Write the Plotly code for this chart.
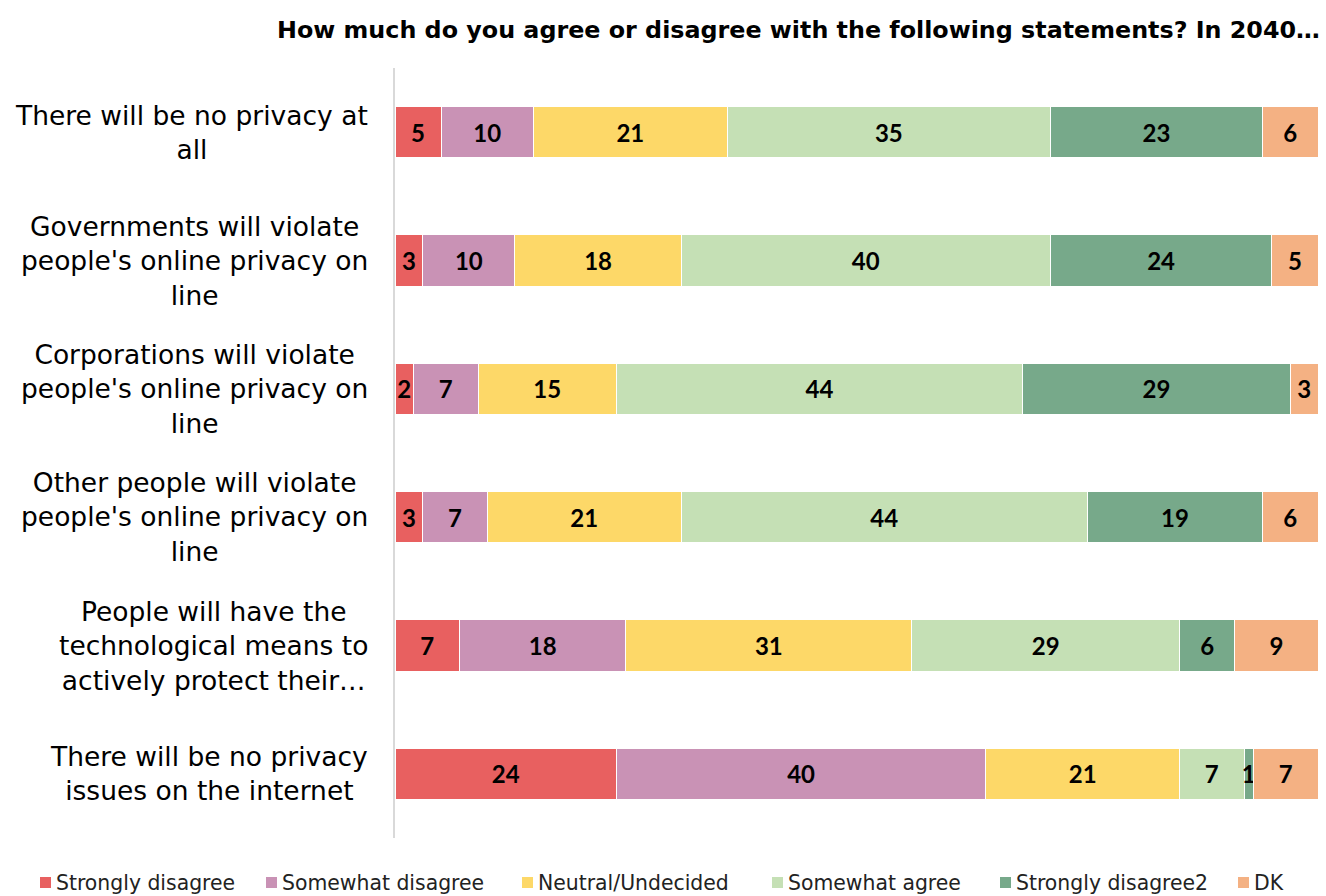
import plotly.graph_objects as go

# Survey statements (top to bottom)
statements = [
    "There will be no privacy at<br>all",
    "Governments will violate<br>people's online privacy on<br>line",
    "Corporations will violate<br>people's online privacy on<br>line",
    "Other people will violate<br>people's online privacy on<br>line",
    "People will have the<br>technological means to<br>actively protect their…",
    "There will be no privacy<br>issues on the internet",
]
row_keys = ["s1", "s2", "s3", "s4", "s5", "s6"]

# Response shares (%) per statement
strongly_disagree = [5, 3, 2, 3, 7, 24]
somewhat_disagree = [10, 10, 7, 7, 18, 40]
neutral_undecided = [21, 18, 15, 21, 31, 21]
somewhat_agree = [35, 40, 44, 44, 29, 7]
strongly_disagree2 = [23, 24, 29, 19, 6, 1]
dont_know = [6, 5, 3, 6, 9, 7]

series_names = ["Strongly disagree", "Somewhat disagree", "Neutral/Undecided",
                "Somewhat agree", "Strongly disagree2", "DK"]
series_values = [strongly_disagree, somewhat_disagree, neutral_undecided,
                 somewhat_agree, strongly_disagree2, dont_know]
series_colors = ["#E86060", "#C992B5", "#FDD868", "#C5E0B5", "#77A98A", "#F4B183"]

TEXT_FONT = "DejaVu Sans"
NUM_FONT = "Lato"
W, H = 1326, 896
L, R, T, B = 395, 8, 68, 58
plot_w = W - L - R
plot_h = H - T - B


def px_x(px):
    return (px - L) / plot_w


def px_y(py):
    return (H - B - py) / plot_h


fig = go.Figure()
for name, vals, color in zip(series_names, series_values, series_colors):
    fig.add_trace(go.Bar(
        y=row_keys, x=vals, name=name, orientation="h",
        marker=dict(color=color, line=dict(color="white", width=1)),
        text=[str(v) for v in vals], textposition="inside",
        insidetextanchor="middle", textangle=0, constraintext="none",
        textfont=dict(family=NUM_FONT, size=24, color="black", weight="bold"),
        showlegend=False,
    ))

annotations = []
# statement labels: right edge of each block against the axis, lines centered
for key, label in zip(row_keys, statements):
    annotations.append(dict(
        x=px_x(370), xref="paper", y=key, yref="y", text=label,
        showarrow=False, xanchor="right", yanchor="middle", align="center",
        font=dict(family=TEXT_FONT, size=26.5, color="black"),
    ))

# title
annotations.append(dict(
    x=px_x(1322), xref="paper", y=px_y(30), yref="paper",
    text="How much do you agree or disagree with the following statements? In 2040…",
    showarrow=False, xanchor="right", yanchor="middle",
    font=dict(family=TEXT_FONT, size=23.8, color="black", weight="bold"),
))

# legend row
legend_x = [40, 266, 522, 772, 1000, 1238]
shapes = []
ly = px_y(883)
for name, color, lx in zip(series_names, series_colors, legend_x):
    shapes.append(dict(
        type="rect", xref="paper", yref="paper",
        xsizemode="pixel", ysizemode="pixel",
        xanchor=px_x(lx), yanchor=ly,
        x0=0, x1=11, y0=-5, y1=6,
        fillcolor=color, line=dict(width=0),
    ))
    annotations.append(dict(
        x=px_x(lx + 14), xref="paper", y=ly, yref="paper", text=name,
        showarrow=False, xanchor="left", yanchor="middle",
        font=dict(family=TEXT_FONT, size=20.4, color="#222222"),
    ))

fig.update_layout(
    width=W, height=H,
    margin=dict(l=L, r=R, t=T, b=B),
    barmode="stack", bargap=0.6,
    plot_bgcolor="white", paper_bgcolor="white",
    uniformtext=dict(minsize=24, mode="show"),
    xaxis=dict(range=[0, 100], visible=False, fixedrange=True),
    yaxis=dict(categoryorder="array", categoryarray=row_keys, autorange="reversed",
               showticklabels=False, showgrid=False, zeroline=False,
               showline=True, linecolor="#D9D9D9", linewidth=1.5, ticks=""),
    annotations=annotations, shapes=shapes,
)

fig.write_html("out.html")
